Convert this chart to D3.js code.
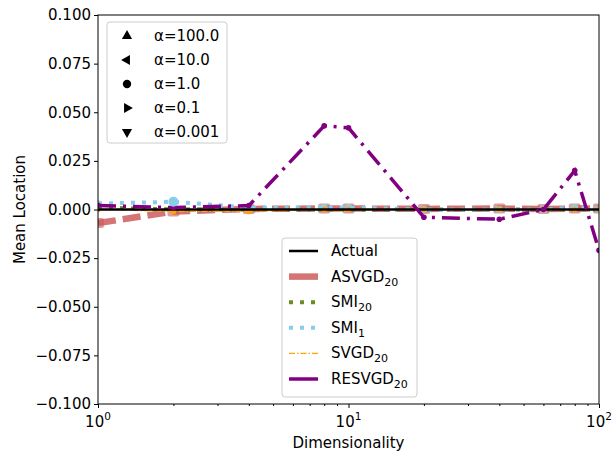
<!DOCTYPE html>
<html><head><meta charset="utf-8">
<script src="https://cdn.jsdelivr.net/npm/d3@7"></script>
<style>body{margin:0;background:#fff;}svg{font-family:"DejaVu Sans",sans-serif;}</style>
</head><body><svg id="c" width="612" height="453"></svg>
<script>
const dims = [1, 2, 4, 8, 10, 20, 40, 60, 80, 100];
const actual = [0, 0, 0, 0, 0, 0, 0, 0, 0, 0];
const asvgd20 = [-0.007, -0.001, 0.0003, 0.0005, 0.0005, 0.0003, 0.0005, 0.0002, 0.0005, 0.0005];
const smi20 = [0.001, 0.000, 0.000, 0.000, 0.000, 0.000, 0.000, 0.000, 0.000, 0.000];
const smi1 = [0.003, 0.004, 0.001, 0.001, 0.001, 0.000, 0.000, 0.000, 0.001, 0.000];
const svgd20 = [0.000, -0.001, -0.001, 0.000, 0.000, 0.000, 0.000, 0.000, 0.000, 0.000];
const resvgd20 = [0.002, 0.001, 0.002, 0.043, 0.042, -0.004, -0.005, 0.000, 0.020, -0.021];
const yTicks = [0.100, 0.075, 0.050, 0.025, 0.000, -0.025, -0.050, -0.075, -0.100];
const xTicks = [1, 10, 100];
const alphaLabels = ["α=100.0", "α=10.0", "α=1.0", "α=0.1", "α=0.001"];
const seriesNames = [["Actual", ""], ["ASVGD", "20"], ["SMI", "20"], ["SMI", "1"], ["SVGD", "20"], ["RESVGD", "20"]];

const L = 98, R = 599, T = 15, B = 404;
const FS = 15;
const svg = d3.select("#c");
const x = d3.scaleLog().domain([1, 100]).range([L, R]);
const y = d3.scaleLinear().domain([-0.1, 0.1]).range([B, T]);

const styles = [
  {data: actual, color: "#000000", w: 2.5, dash: null, marker: false},
  {data: asvgd20, color: "#cd5c5c", w: 6.5, dash: "18,7", marker: true, op: 0.85},
  {data: smi20, color: "#6b8e23", w: 4, dash: "4,7", marker: true},
  {data: smi1, color: "#87ceeb", w: 4, dash: "4,7", marker: true},
  {data: svgd20, color: "#ffa500", w: 1.2, dash: "6,2,1.5,2", marker: true},
  {data: resvgd20, color: "#800080", w: 3.5, dash: "18,7,3,7", marker: true}
];
const drawOrder = [1, 2, 3, 4, 0, 5];

svg.append("defs").append("clipPath").attr("id", "pc")
  .append("rect").attr("x", L).attr("y", T).attr("width", R - L).attr("height", B - T);
const g = svg.append("g").attr("clip-path", "url(#pc)");
const line = d3.line().x((d, i) => x(dims[i])).y(d => y(d));

drawOrder.forEach(k => {
  const s = styles[k];
  g.append("path").attr("d", line(s.data)).attr("fill", "none")
    .attr("stroke", s.color).attr("stroke-width", s.w)
    .attr("stroke-dasharray", s.dash).attr("opacity", s.op || 1);
  if (s.marker) {
    if (k === 1) {
      g.selectAll(null).data(s.data).enter().append("rect")
        .attr("x", (d, i) => x(dims[i]) - 6).attr("y", d => y(d) - 5)
        .attr("width", 12).attr("height", 10).attr("rx", 2)
        .attr("fill", "#cd5c5c").attr("fill-opacity", 0.6);
    } else {
      g.selectAll(null).data(s.data).enter().append("circle")
        .attr("cx", (d, i) => x(dims[i])).attr("cy", d => y(d))
        .attr("r", k === 3 ? 3.5 : 2.8).attr("fill", s.color).attr("opacity", s.op || 1);
    }
  }
});
g.append("circle").attr("cx", x(dims[1])).attr("cy", y(smi1[1])).attr("r", 5).attr("fill", "#87ceeb");

const yAxis = d3.axisLeft(y).tickValues(yTicks).tickSize(4);
const ya = svg.append("g").attr("transform", `translate(${L},0)`).call(yAxis);
ya.selectAll("text").attr("font-size", FS).attr("fill", "#000").attr("x", -7)
  .attr("font-family", "DejaVu Sans")
  .text(d => d3.format(".3f")(d).replace("-", "\u2212"));
ya.select(".domain").remove();

const xa = svg.append("g").attr("transform", `translate(0,${B})`)
  .call(d3.axisBottom(x).tickValues(xTicks).tickFormat("").tickSize(4));
xa.select(".domain").remove();
const minor = [2,3,4,5,6,7,8,9,20,30,40,50,60,70,80,90];
const xm = svg.append("g").attr("transform", `translate(0,${B})`)
  .call(d3.axisBottom(x).tickValues(minor).tickFormat("").tickSize(2));
xm.select(".domain").remove();
xTicks.forEach((v, i) => {
  const t = svg.append("text").attr("x", x(v)).attr("y", B + 23).attr("text-anchor", "middle")
    .attr("font-size", FS).attr("fill", "#000");
  t.append("tspan").text("10");
  t.append("tspan").attr("dy", -7).attr("font-size", 10.5).text(String(i));
});

svg.append("rect").attr("x", L).attr("y", T).attr("width", R - L).attr("height", B - T)
  .attr("fill", "none").attr("stroke", "#000").attr("stroke-width", 1);

svg.append("text").attr("x", (L + R) / 2).attr("y", 448).attr("text-anchor", "middle")
  .attr("font-size", FS).text("Dimensionality");
svg.append("text").attr("transform", `translate(25,${(T + B) / 2}) rotate(-90)`)
  .attr("text-anchor", "middle").attr("font-size", FS).text("Mean Location");

const lg1 = svg.append("g");
lg1.append("rect").attr("x", 107).attr("y", 22).attr("width", 120).attr("height", 121)
  .attr("rx", 3).attr("fill", "#fff").attr("fill-opacity", 0.8).attr("stroke", "#ccc");
const rots = [0, -90, 0, 90, 180];
alphaLabels.forEach((lab, i) => {
  const yy = 36 + i * 24;
  lg1.append("path").attr("d", d3.symbol().type(i === 2 ? d3.symbolCircle : d3.symbolTriangle).size(i === 2 ? 55 : 45)())
    .attr("transform", `translate(127,${yy}) rotate(${rots[i]})`).attr("fill", "#000");
  lg1.append("text").attr("x", 154).attr("y", yy + 5).attr("font-size", FS).text(lab);
});

const lg2 = svg.append("g");
lg2.append("rect").attr("x", 282).attr("y", 238).attr("width", 135).attr("height", 159)
  .attr("rx", 3).attr("fill", "#fff").attr("fill-opacity", 0.8).attr("stroke", "#ccc");
seriesNames.forEach((nm, i) => {
  const yy = 251 + i * 25.6;
  const s = styles[i];
  lg2.append("line").attr("x1", 289).attr("x2", 318).attr("y1", yy).attr("y2", yy)
    .attr("stroke", s.color).attr("stroke-width", s.w)
    .attr("stroke-dasharray", i === 1 || i === 5 ? null : s.dash)
    .attr("opacity", s.op || 1);
  const t = lg2.append("text").attr("x", 331).attr("y", yy + 5).attr("font-size", FS);
  t.append("tspan").text(nm[0]);
  if (nm[1]) t.append("tspan").attr("dy", 4).attr("font-size", 11).text(nm[1]);
});
</script></body></html>
